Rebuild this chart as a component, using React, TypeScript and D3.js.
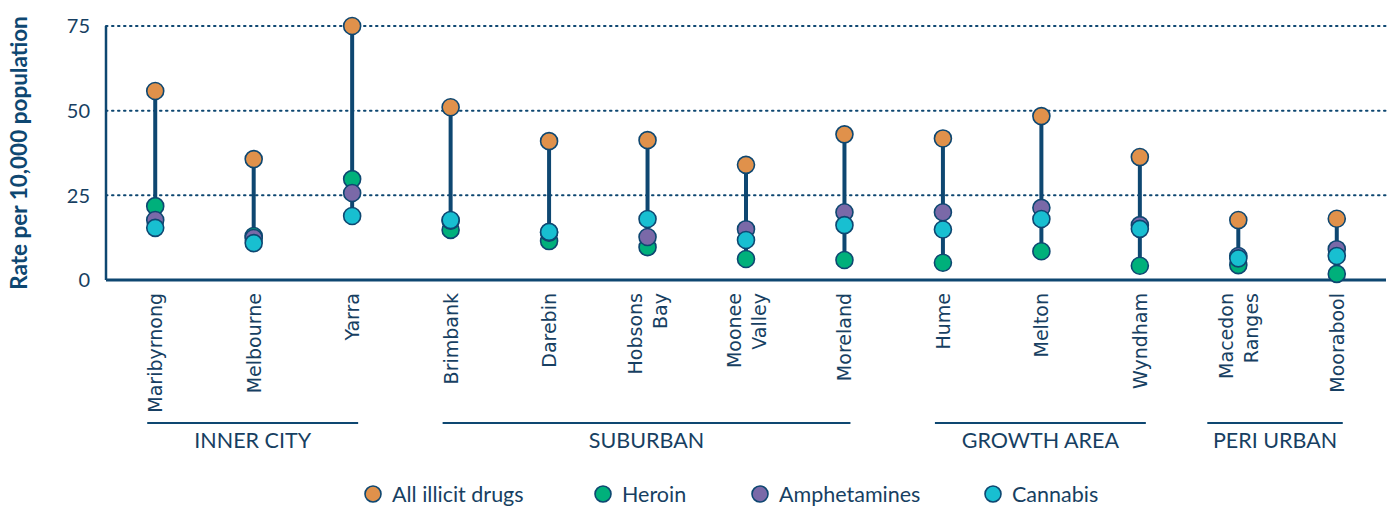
import React from "react";
import * as d3 from "d3";

const categories = [
  "Maribyrnong", "Melbourne", "Yarra", "Brimbank", "Darebin", "Hobsons\nBay",
  "Moonee\nValley", "Moreland", "Hume", "Melton", "Wyndham", "Macedon\nRanges", "Moorabool",
];
const groupNames = ["INNER CITY", "SUBURBAN", "GROWTH AREA", "PERI URBAN"];
const groupFirst = [0, 3, 8, 11];
const groupLast = [2, 7, 10, 12];

const allIllicit = [55.8, 35.7, 75.0, 51.0, 41.0, 41.3, 34.0, 43.0, 41.8, 48.4, 36.3, 17.7, 18.1];
const heroin = [21.8, 13.0, 29.8, 14.8, 11.5, 9.7, 6.2, 5.9, 5.1, 8.5, 4.2, 4.4, 1.8];
const amphetamines = [17.7, 12.4, 25.7, 17.5, 14.0, 12.7, 15.0, 20.0, 20.0, 21.3, 16.2, 7.1, 9.1];
const cannabis = [15.4, 10.9, 18.9, 17.7, 14.2, 18.0, 11.8, 16.2, 14.9, 18.0, 15.1, 6.4, 7.1];

const yTicks = [0, 25, 50, 75];
const seriesNames = ["All illicit drugs", "Heroin", "Amphetamines", "Cannabis"];
const seriesColors = ["#E0914B", "#00B07B", "#7A69A8", "#18BFD1"];

export default function App() {
  const W = 1396, H = 507;
  const left = 106, right = 1386, top = 26, bottom = 280;
  const navy = "#0E4771";
  const textCol = "#173F62";
  const sansFont = "Lato, 'Open Sans', sans-serif";
  const labelFont = "'DejaVu Sans', Verdana, sans-serif";

  const x = d3.scaleBand<string>().domain(categories).range([left, right]);
  const y = d3.scaleLinear().domain([0, 75]).range([bottom, top]);
  const cx = (i: number) => (x(categories[i]) as number) + x.bandwidth() / 2;

  const series = [allIllicit, heroin, amphetamines, cannabis];
  const r = 8.5;

  const lineCount = (i: number) => categories[i].split("\n").length;

  const legendX = [373, 603, 760, 993];

  return (
    <svg width={W} height={H} style={{ position: "absolute", left: 0, top: 0 }}>
      {yTicks.filter((t) => t > 0).map((t) => (
        <line key={t} x1={left} x2={right} y1={y(t)} y2={y(t)} stroke={navy}
          strokeWidth={2} strokeDasharray="1.5 4.5" strokeLinecap="round" />
      ))}
      <line x1={left} x2={left} y1={top} y2={bottom} stroke={navy} strokeWidth={2.5} />
      <line x1={left} x2={right} y1={bottom} y2={bottom} stroke={navy} strokeWidth={3} />
      {yTicks.map((t) => (
        <text key={t} x={90} y={y(t)} dy="0.36em" textAnchor="end" fontFamily={sansFont}
          fontSize={20} fill={textCol}>{t}</text>
      ))}
      <text transform={`translate(27,153) rotate(-90)`} textAnchor="middle"
        fontFamily={sansFont} fontWeight="bold" fontSize={22.5} fill={navy}>
        Rate per 10,000 population
      </text>
      {categories.map((c, i) => {
        const vals = series.map((s) => s[i]);
        const lo = d3.min(vals) as number;
        const hi = d3.max(vals) as number;
        return (
          <g key={c}>
            <line x1={cx(i)} x2={cx(i)} y1={y(lo)} y2={y(hi)} stroke={navy} strokeWidth={4} />
            {series.map((s, k) => (
              <circle key={k} cx={cx(i)} cy={y(s[i])} r={r} fill={seriesColors[k]}
                stroke={navy} strokeWidth={1.6} />
            ))}
          </g>
        );
      })}
      {categories.map((c, i) => {
        const lines = c.split("\n");
        const n = lines.length;
        return (
          <text key={c} transform={`translate(${cx(i)},293) rotate(-90)`} textAnchor="end"
            fontFamily={labelFont} fontSize={19} fill={textCol}>
            {lines.map((ln, j) => (
              <tspan key={j} x={0} y={(j - (n - 1) / 2) * 25 + 7}>{ln}</tspan>
            ))}
          </text>
        );
      })}
      {groupNames.map((g, gi) => {
        const x1 = cx(groupFirst[gi]) - 8 - 23 * (lineCount(groupFirst[gi]) - 1);
        const x2 = cx(groupLast[gi]) + 6;
        return (
          <g key={g}>
            <line x1={x1} x2={x2} y1={423} y2={423} stroke={navy} strokeWidth={2} />
            <text x={(x1 + x2) / 2} y={448} textAnchor="middle" fontFamily={sansFont}
              fontSize={21.5} fill={textCol}>{g}</text>
          </g>
        );
      })}
      {seriesNames.map((s, k) => (
        <g key={s}>
          <circle cx={legendX[k]} cy={494} r={8} fill={seriesColors[k]} stroke={navy} strokeWidth={1.6} />
          <text x={legendX[k] + 19} y={494} dy="0.36em" fontFamily={sansFont} fontSize={21.5}
            fill={textCol}>{s}</text>
        </g>
      ))}
    </svg>
  );
}
